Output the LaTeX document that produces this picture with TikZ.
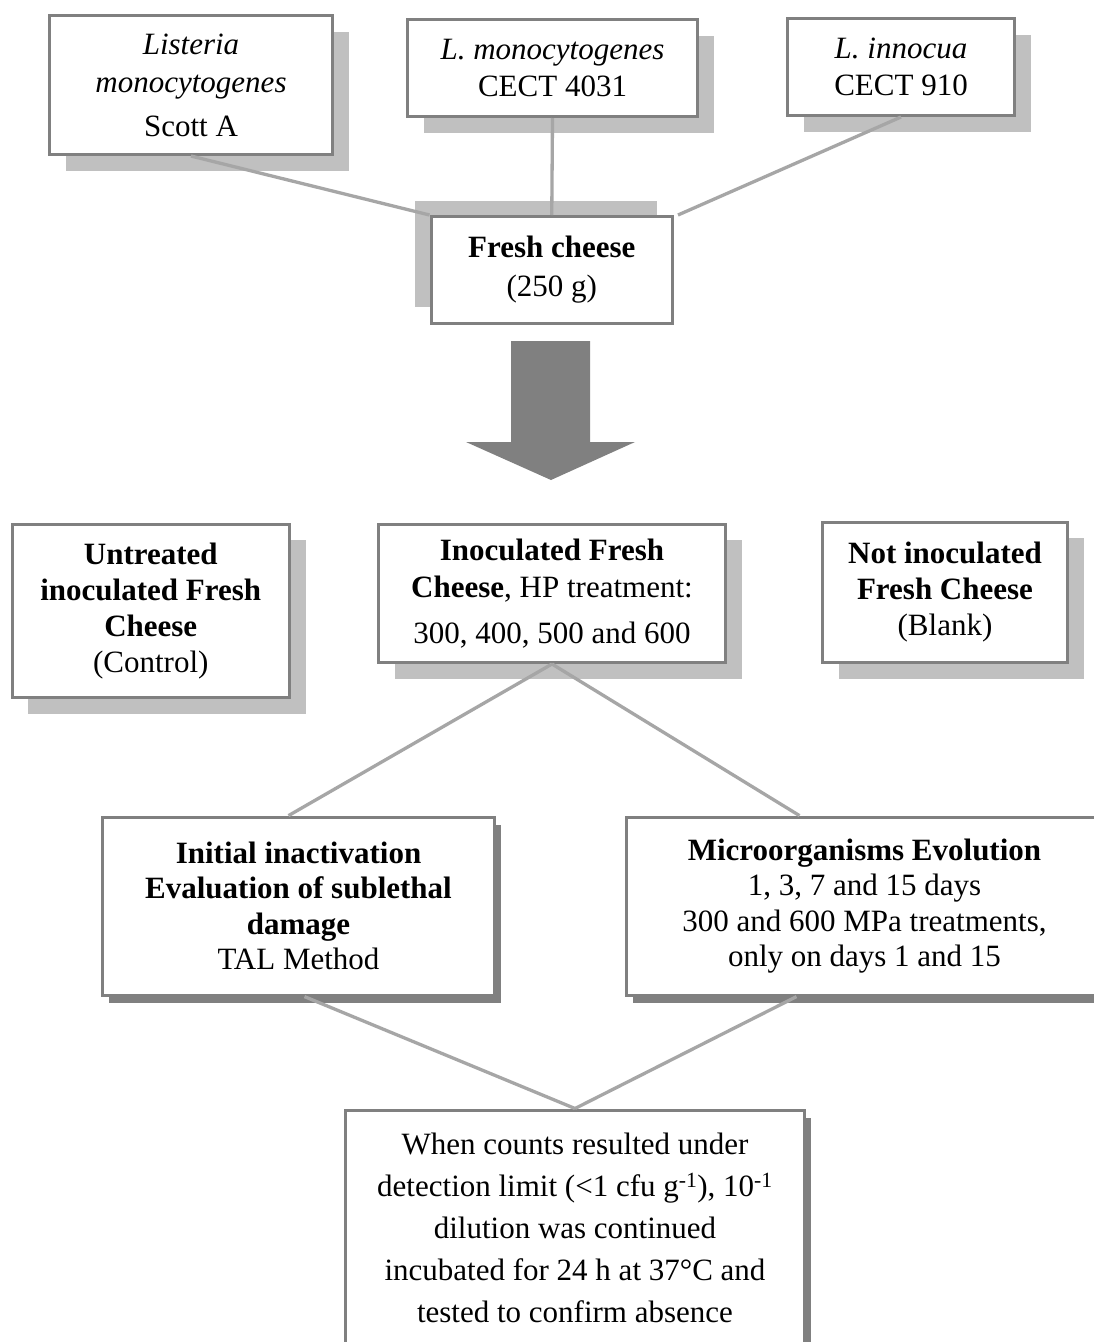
\documentclass[tikz,border=0pt]{standalone}
\usepackage{fontspec}
\setmainfont{Liberation Serif}
\usetikzlibrary{shadows,calc}
\definecolor{bordergray}{HTML}{808080}
\definecolor{shadelight}{HTML}{C0C0C0}
\definecolor{linegray}{HTML}{A6A6A6}
\definecolor{arrowgray}{HTML}{808080}
\tikzset{
  boxbase/.style={draw=bordergray, line width=3pt, fill=white, inner sep=0pt,
    anchor=north west, align=center, text=black,
    font=\fontsize{31}{35.5}\selectfont},
  topbox/.style={boxbase, drop shadow={shadow xshift=16pt, shadow yshift=-16pt,
    fill=shadelight, opacity=1}},
  cheesebox/.style={boxbase, drop shadow={shadow xshift=-16pt, shadow yshift=16pt,
    fill=shadelight, opacity=1}},
  lowbox/.style={boxbase, drop shadow={shadow xshift=6pt, shadow yshift=-8pt,
    fill=bordergray, opacity=1}},
  conn/.style={draw=linegray, line width=3.3pt},
  bigarrow/.style={fill=arrowgray},
}
\begin{document}
\begin{tikzpicture}[x=1pt,y=-1pt]
\clip (0,0) rectangle (1094,1342);
\fill[white] (0,0) rectangle (1094,1342);

% top row
\node[topbox, minimum width=283pt, minimum height=139pt] (A) at (48,14)
  {\textit{Listeria}\\[3pt]\textit{monocytogenes}\\[8pt]Scott A};
\node[topbox, minimum width=290pt, minimum height=97pt] (B) at (406,18)
  {\textit{L. monocytogenes}\\[1pt]CECT 4031};
\node[topbox, minimum width=227pt, minimum height=97pt] (C) at (786,17)
  {\textit{L. innocua}\\[2pt]CECT 910};
\node[cheesebox, minimum width=241.5pt, minimum height=106.5pt] (D) at (429.5,215)
  {\textbf{Fresh cheese}\\[4pt](250 g)};

% big arrow
\fill[bigarrow] (511,341) -- (590,341) -- (590,442) -- (635,442) -- (551,480)
  -- (466,442) -- (511,442) -- cycle;

% middle row
\node[topbox, minimum width=277.5pt, minimum height=173.3pt,
  font=\fontsize{31}{36}\selectfont] (E) at (10.5,522.7)
  {\textbf{Untreated}\\\textbf{inoculated Fresh}\\\textbf{Cheese}\\(Control)};
\node[topbox, minimum width=347pt, minimum height=138.3pt] (F) at (377,522.7)
  {\textbf{Inoculated Fresh}\\[2pt]\textbf{Cheese}, HP treatment:\\[10pt]300, 400, 500 and 600};
\node[topbox, minimum width=245pt, minimum height=140.3pt,
  font=\fontsize{31}{36}\selectfont] (G) at (821,520.7)
  {\textbf{Not inoculated}\\\textbf{Fresh Cheese}\\(Blank)};

% lower row
\node[lowbox, minimum width=392pt, minimum height=178pt] (H) at (101,815.6)
  {\textbf{Initial inactivation}\\\textbf{Evaluation of sublethal}\\\textbf{damage}\\TAL Method};
\node[lowbox, minimum width=476pt, minimum height=178pt] (I) at (625,815.6)
  {\textbf{Microorganisms Evolution}\\1, 3, 7 and 15 days\\300 and 600 MPa treatments,\\only on days 1 and 15};
\node[lowbox, minimum width=459pt, minimum height=235pt,
  font=\fontsize{31}{42}\selectfont] (J) at (344,1108.5)
  {When counts resulted under\\detection limit (<1 cfu g\textsuperscript{-1}), 10\textsuperscript{-1}\\dilution was continued\\incubated for 24 h at 37°C and\\tested to confirm absence};

% connectors
\draw[conn] (A.south) -- (D.north west);
\draw[conn] (B.south) -- (D.north);
\draw[conn] (C.south) -- ([xshift=4pt]D.north east);
\draw[conn] (F.south) -- ([xshift=-10pt]H.north);
\draw[conn] (F.south) -- ([xshift=-65pt]I.north);
\draw[conn] ([xshift=6pt]H.south) -- (J.north);
\draw[conn] ([xshift=-68pt]I.south) -- (J.north);
\end{tikzpicture}
\end{document}
